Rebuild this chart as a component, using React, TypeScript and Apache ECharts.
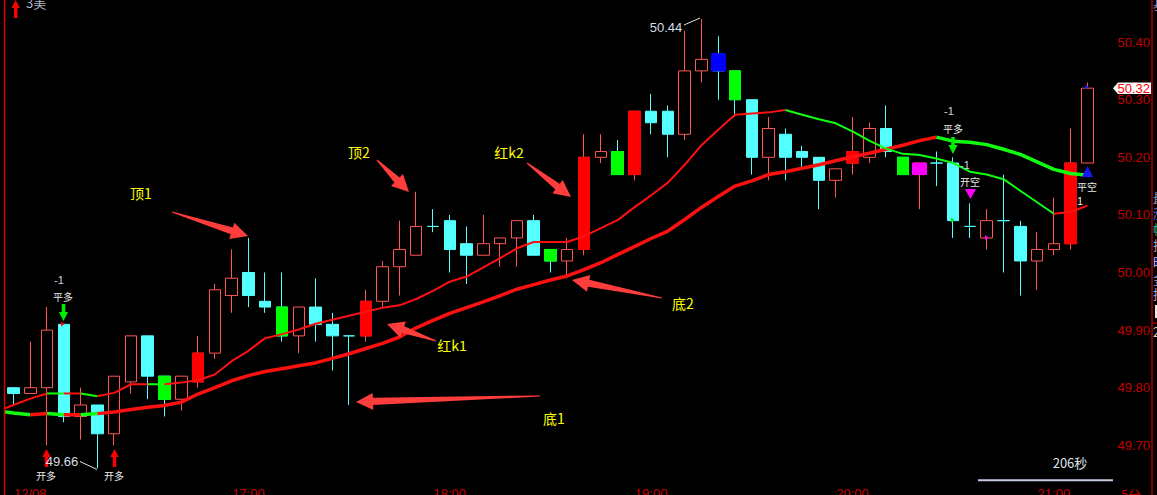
import React, { useEffect, useRef } from "react";
import * as echarts from "echarts";

// ---------- DATA ----------
const categories = [
  "15:45", "15:50", "15:55", "16:00", "16:05", "16:10", "16:15", "16:20", "16:25", "16:30", "16:35", "16:40",
  "16:45", "16:50", "16:55", "17:00", "17:05", "17:10", "17:15", "17:20", "17:25", "17:30", "17:35", "17:40",
  "17:45", "17:50", "17:55", "18:00", "18:05", "18:10", "18:15", "18:20", "18:25", "18:30", "18:35", "18:40",
  "18:45", "18:50", "18:55", "19:00", "19:05", "19:10", "19:15", "19:20", "19:25", "19:30", "19:35", "19:40",
  "19:45", "19:50", "19:55", "20:00", "20:05", "20:10", "20:15", "20:20", "20:25", "20:30", "20:35", "20:40",
  "20:45", "20:50", "20:55", "21:00", "21:05", "21:10",
];

// tick labels shown on the time axis: [category index, text]
const xTickLabels: [number, string][] = [
  [2, "12/08"], [15, "17:00"], [27, "18:00"], [39, "19:00"], [51, "20:00"], [63, "21:00"],
];

// candles for category index 1..65 : [open, close, low, high]
const ohlc: number[][] = [
  [49.80, 49.79, 49.77, 49.80], [49.79, 49.80, 49.79, 49.88], [49.80, 49.90, 49.70, 49.94], [49.91, 49.75, 49.74, 49.91],
  [49.75, 49.77, 49.71, 49.80], [49.77, 49.72, 49.66, 49.77], [49.72, 49.82, 49.70, 49.82], [49.81, 49.89, 49.79, 49.89],
  [49.89, 49.82, 49.78, 49.89], [49.82, 49.78, 49.75, 49.82], [49.78, 49.82, 49.76, 49.82], [49.81, 49.86, 49.80, 49.89],
  [49.86, 49.97, 49.85, 49.98], [49.96, 49.99, 49.93, 50.04], [50.00, 49.96, 49.94, 50.06], [49.95, 49.94, 49.93, 50.00],
  [49.94, 49.89, 49.88, 50.00], [49.89, 49.94, 49.86, 49.94], [49.94, 49.91, 49.88, 49.99], [49.91, 49.89, 49.83, 49.93],
  [49.89, 49.89, 49.77, 49.89], [49.89, 49.95, 49.88, 49.97], [49.95, 50.01, 49.94, 50.02], [50.01, 50.04, 49.96, 50.09],
  [50.03, 50.08, 50.03, 50.14], [50.08, 50.08, 50.07, 50.11], [50.09, 50.04, 50.00, 50.10], [50.05, 50.03, 49.98, 50.08],
  [50.03, 50.05, 50.03, 50.10], [50.05, 50.06, 50.01, 50.06], [50.06, 50.09, 50.01, 50.09], [50.09, 50.03, 50.03, 50.10],
  [50.04, 50.02, 50.00, 50.04], [50.02, 50.04, 49.99, 50.06], [50.04, 50.20, 50.03, 50.24], [50.20, 50.21, 50.19, 50.24],
  [50.21, 50.17, 50.17, 50.23], [50.17, 50.28, 50.16, 50.28], [50.28, 50.26, 50.24, 50.31], [50.28, 50.24, 50.20, 50.29],
  [50.24, 50.35, 50.23, 50.42], [50.35, 50.37, 50.33, 50.44], [50.38, 50.35, 50.30, 50.41], [50.35, 50.30, 50.27, 50.35],
  [50.30, 50.20, 50.17, 50.30], [50.20, 50.25, 50.16, 50.27], [50.24, 50.20, 50.16, 50.25], [50.21, 50.20, 50.18, 50.22],
  [50.20, 50.16, 50.11, 50.20], [50.16, 50.18, 50.13, 50.18], [50.19, 50.21, 50.17, 50.27], [50.20, 50.25, 50.19, 50.26],
  [50.25, 50.21, 50.20, 50.29], [50.20, 50.17, 50.17, 50.20], [50.17, 50.19, 50.11, 50.19], [50.19, 50.19, 50.15, 50.21],
  [50.19, 50.09, 50.06, 50.20], [50.08, 50.08, 50.06, 50.12], [50.06, 50.09, 50.04, 50.11], [50.09, 50.09, 50.00, 50.17],
  [50.08, 50.02, 49.96, 50.09], [50.02, 50.04, 49.97, 50.07], [50.04, 50.05, 50.03, 50.13], [50.05, 50.19, 50.04, 50.25],
  [50.19, 50.32, 50.19, 50.33],
];

// signal-coloured bars (category indices)
const redSignalBars = [12, 22, 35, 38, 51, 64];
const greenSignalBars = [10, 17, 33, 37, 44, 54];
const blueSignalBars = [43];
const magentaSignalBars = [55];

// moving averages for category index 0..65
const fastMA = [
  49.759, 49.770, 49.781, 49.790, 49.790, 49.790, 49.785, 49.791, 49.806, 49.806, 49.806, 49.809,
  49.813, 49.823, 49.846, 49.864, 49.886, 49.893, 49.901, 49.911, 49.918, 49.925, 49.932, 49.939,
  49.943, 49.954, 49.968, 49.984, 49.993, 50.009, 50.025, 50.042, 50.053, 50.053, 50.053, 50.063,
  50.077, 50.091, 50.113, 50.134, 50.156, 50.187, 50.221, 50.248, 50.274, 50.276, 50.278, 50.282,
  50.274, 50.266, 50.259, 50.245, 50.229, 50.215, 50.206, 50.204, 50.198, 50.190, 50.175, 50.170,
  50.162, 50.142, 50.122, 50.102, 50.105, 50.116,
];
const slowMA = [
  49.760, 49.756, 49.753, 49.755, 49.753, 49.753, 49.755, 49.758, 49.762, 49.766, 49.769, 49.775,
  49.789, 49.800, 49.812, 49.821, 49.828, 49.833, 49.838, 49.843, 49.851, 49.859, 49.868, 49.877,
  49.888, 49.904, 49.917, 49.929, 49.939, 49.949, 49.960, 49.971, 49.979, 49.987, 49.994, 50.005,
  50.017, 50.031, 50.045, 50.059, 50.072, 50.092, 50.113, 50.132, 50.150, 50.159, 50.170, 50.175,
  50.181, 50.187, 50.194, 50.201, 50.207, 50.214, 50.221, 50.229, 50.235, 50.228, 50.226, 50.222,
  50.214, 50.205, 50.192, 50.179, 50.172, 50.169,
];
// trend runs: [from index, to index, 1 = up(red) / 0 = down(green)]
const fastTrendRuns = [[0, 3, 1], [3, 4, 0], [4, 5, 1], [5, 6, 0], [6, 9, 1], [9, 10, 0], [10, 47, 1], [47, 63, 0], [63, 65, 1]];
const slowTrendRuns = [[0, 2, 0], [2, 3, 1], [3, 4, 0], [4, 5, 1], [5, 6, 0], [6, 56, 1], [56, 65, 0]];

const lastPrice = 50.32;
const lowMark = "49.66";
const highMark = "50.44";

// ---------- STYLE / LAYOUT ----------
const BAND = 16.78;
const FIRST_CENTER = 13.5;
const GRID_LEFT = FIRST_CENTER - 1.5 * BAND;
const GRID_WIDTH = categories.length * BAND;
const GRID_TOP = -15.5;
const GRID_HEIGHT = 518.4;
const AXIS_RED = "#c40000";
const CYAN = "#54ffff";
const HOLLOW = "#ff5555";
const LINE_RED = "#ff1010";
const LINE_GREEN = "#10ff10";
const NUM_FONT = "'Liberation Sans', Arial, sans-serif";
const CJK_FONT = "'Noto Sans CJK SC', 'Noto Sans', sans-serif";

function arrowPoly(tx: number, ty: number, px: number, py: number) {
  const dx = px - tx, dy = py - ty;
  const len = Math.hypot(dx, dy);
  const ux = dx / len, uy = dy / len;
  const nx = -uy, ny = ux;
  const L = 17, Wh = 8.5, Ws = 3.6, Wt = 0.6;
  const bx = px - ux * L, by = py - uy * L;
  return [
    [tx + nx * Wt, ty + ny * Wt],
    [bx + nx * Ws, by + ny * Ws],
    [bx + nx * Wh, by + ny * Wh],
    [px, py],
    [bx - nx * Wh, by - ny * Wh],
    [bx - nx * Ws, by - ny * Ws],
    [tx - nx * Wt, ty - ny * Wt],
  ];
}

function txt(text: string, x: number, y: number, fill: string, fontSize: number, font = NUM_FONT, align = "center", va = "middle") {
  return {
    type: "text", x, y, z: 100,
    style: { text, fill, fontSize, fontFamily: font, align, verticalAlign: va },
  };
}
function poly(points: number[][], fill: string) {
  return { type: "polygon", z: 100, shape: { points }, style: { fill } };
}
function seg(x1: number, y1: number, x2: number, y2: number, stroke: string, lineWidth = 1) {
  return { type: "line", z: 100, shape: { x1, y1, x2, y2 }, style: { stroke, lineWidth } };
}
function downArrow(cx: number, top: number, fill: string) {
  return poly([[cx - 1.8, top], [cx + 1.8, top], [cx + 1.8, top + 8], [cx + 4.6, top + 8], [cx, top + 17], [cx - 4.6, top + 8], [cx - 1.8, top + 8]], fill);
}
function upArrow(cx: number, tip: number, fill: string) {
  return poly([[cx, tip], [cx + 4.2, tip + 8], [cx + 1.7, tip + 8], [cx + 1.7, tip + 18], [cx - 1.7, tip + 18], [cx - 1.7, tip + 8], [cx - 4.2, tip + 8]], fill);
}
function pointer(x: number, y: number, fill: string) {
  return poly([[x, y - 2.5], [x + 3.5, y], [x, y + 2.5]], fill);
}

function buildGraphics(priceY: number) {
  const Y = "#ffff00";
  const W = "#e8e8e8";
  const B = "#c8d4ea";
  const AR = "#ff3d3d";
  const g: any[] = [
    { type: "rect", z: 99, shape: { x: 0, y: 0, width: 4, height: 495 }, style: { fill: "#000" } },
    seg(4.5, 0, 4.5, 495, "#e00000", 1.5),
    seg(1152, 0, 1152, 495, "#d00000", 1.2),
    seg(1152, 323, 1157, 323, "#d00000", 1),
    // top-left
    upArrow(15.7, 0, "#ff0000"),
    txt("3美", 26, 2, "#a8b4c8", 13, CJK_FONT, "left", "middle"),
    // yellow notes
    txt("顶1", 141, 193, Y, 14, CJK_FONT),
    txt("顶2", 359, 152, Y, 14, CJK_FONT),
    txt("红k2", 509, 152, Y, 14, CJK_FONT),
    txt("红k1", 452, 345, Y, 14, CJK_FONT),
    txt("底1", 554, 418, Y, 14, CJK_FONT),
    txt("底2", 683, 303, Y, 14, CJK_FONT),
    poly(arrowPoly(172, 212, 248, 236), AR),
    poly(arrowPoly(377, 160, 409, 192), AR),
    poly(arrowPoly(527, 163, 571, 197), AR),
    poly(arrowPoly(436, 341, 387, 324), AR),
    poly(arrowPoly(540, 396, 356, 402), AR),
    poly(arrowPoly(662, 298, 572, 280), AR),
    // trade signals
    txt("-1", 59, 280, B, 11),
    txt("平多", 63, 296, W, 10, CJK_FONT),
    downArrow(63.5, 304, "#00ee00"),
    pointer(61, 324, "#ff0000"),
    upArrow(46.5, 449, "#ff0000"),
    upArrow(114.5, 449, "#ff0000"),
    txt("开多", 46, 475, W, 10, CJK_FONT),
    txt("开多", 114, 475, W, 10, CJK_FONT),
    txt(lowMark, 62, 461, "#d8dde6", 13),
    seg(80, 461.5, 97, 469.5, "#e0e0e0", 1),
    txt(highMark, 666, 27, "#d8dde6", 13),
    seg(684, 25, 700, 18, "#e0e0e0", 1),
    txt("-1", 949, 111, B, 11),
    txt("平多", 953, 128, W, 10, CJK_FONT),
    downArrow(953, 137, "#00ee00"),
    pointer(951, 220, "#00ee00"),
    txt("-1", 965, 165, B, 11),
    txt("开空", 970, 181, W, 10, CJK_FONT),
    poly([[965, 189], [976, 189], [970.5, 199]], "#ff00ff"),
    pointer(985, 237.5, "#ff00ff"),
    poly([[1087.5, 166], [1093, 177], [1082, 177]], "#1414ff"),
    pointer(1085, 87, "#1414ff"),
    txt("平空", 1087, 186, W, 10, CJK_FONT),
    txt("1", 1080, 201, W, 11),
    // bottom right
    txt("206秒", 1070, 462, "#dde3ec", 13, CJK_FONT),
    seg(978, 480.3, 1113, 480.3, "#c4cce4", 2),
    txt("5分", 1131, 494, AXIS_RED, 13, CJK_FONT),
    // price tag
    poly([[1113, priceY], [1118, priceY - 5.8], [1151, priceY - 5.8], [1151, priceY + 5.8], [1118, priceY + 5.8]], "#ffffff"),
    txt(lastPrice.toFixed(2), 1150, priceY, "#ff0000", 13, NUM_FONT, "right", "middle"),
  ];
  const side: [string, number, string][] = [
    ["基", 3, "#8898c0"], ["最", 197, "#8898c0"], ["涨", 212, "#5a84e0"], ["幅", 228, "#30c0a0"],
    ["振", 244, "#a0a0d0"], ["昨", 261, "#c0c0ff"], ["金", 278, "#8090c0"], ["持", 293, "#a0a8e0"], ["2", 331, "#d0d0d0"],
  ];
  side.forEach(([t, y, c]) => g.push(txt(t, 1153, y, c, 13, CJK_FONT, "left", "middle")));
  g.push({ type: "rect", z: 100, shape: { x: 1155, y: 305, width: 3, height: 13 }, style: { fill: "#e8e8e8" } });
  return g;
}

function runSeries(values: number[], runs: number[][], width: number) {
  return runs.map(([a, b, up]) => ({
    type: "line",
    data: values.map((v, i) => (i >= a && i <= b ? v : "-")),
    symbol: "none",
    silent: true,
    z: 3,
    lineStyle: { color: up ? LINE_RED : LINE_GREEN, width },
    itemStyle: { color: up ? LINE_RED : LINE_GREEN },
  }));
}

export default function App() {
  const ref = useRef<HTMLDivElement>(null);
  useEffect(() => {
    if (!ref.current) return;
    const chart = echarts.init(ref.current, undefined, { renderer: "svg" });
    const labelMap = new Map<number, string>(xTickLabels);

    const solid = (c: string) => ({ color: c, color0: c, borderColor: c, borderColor0: c });
    const baseData = ohlc.map((d, i) => {
      const idx = i + 1;
      const item: any = { value: [idx, d[0], d[1], d[2], d[3]] };
      if (d[0] === d[1]) item.itemStyle = solid(CYAN);
      return item;
    });
    const overlay = (bars: number[], color: string) =>
      bars.map((idx) => {
        const d = ohlc[idx - 1];
        return { value: [idx, d[0], d[1], Math.min(d[0], d[1]), Math.max(d[0], d[1])], itemStyle: solid(color) };
      });

    const option: any = {
      animation: false,
      backgroundColor: "#000000",
      grid: {
        left: GRID_LEFT, top: GRID_TOP, width: GRID_WIDTH, height: GRID_HEIGHT,
        containLabel: false, outerBoundsMode: "none",
      },
      xAxis: {
        type: "category",
        data: categories,
        boundaryGap: true,
        offset: -21.9,
        axisLine: { show: false },
        axisTick: { show: false },
        splitLine: { show: false },
        axisLabel: {
          interval: (i: number) => labelMap.has(i),
          formatter: (_v: string, i: number) => labelMap.get(i) ?? "",
          color: AXIS_RED,
          fontSize: 13,
          fontFamily: NUM_FONT,
          margin: 6,
        },
      },
      yAxis: {
        type: "value",
        position: "right",
        min: 49.6,
        max: 50.5,
        interval: 0.1,
        axisLine: { show: false },
        axisTick: { show: false },
        splitLine: { show: false },
        axisLabel: {
          showMinLabel: false,
          showMaxLabel: false,
          formatter: (v: number) => v.toFixed(2),
          color: AXIS_RED,
          fontSize: 13,
          fontFamily: NUM_FONT,
          align: "right",
          margin: 1150 - (GRID_LEFT + GRID_WIDTH),
        },
      },
      series: [
        {
          type: "candlestick",
          data: baseData,
          encode: { x: 0, y: [1, 2, 3, 4] },
          barWidth: 12,
          z: 2,
          silent: true,
          itemStyle: { color: "transparent", color0: CYAN, borderColor: HOLLOW, borderColor0: CYAN, borderWidth: 1 },
        },
        {
          type: "candlestick",
          data: [...overlay(redSignalBars, "#ff0000"), ...overlay(greenSignalBars, "#00ff00")],
          encode: { x: 0, y: [1, 2, 3, 4] },
          barWidth: 12,
          z: 2,
          silent: true,
          itemStyle: { borderWidth: 1 },
        },
        {
          type: "candlestick",
          data: [...overlay(blueSignalBars, "#0000ff"), ...overlay(magentaSignalBars, "#ff00ff")],
          encode: { x: 0, y: [1, 2, 3, 4] },
          barWidth: 15,
          z: 2,
          silent: true,
          itemStyle: { borderWidth: 1 },
        },
        ...runSeries(slowMA, slowTrendRuns, 3.5),
        ...runSeries(fastMA, fastTrendRuns, 2),
      ],
    };
    chart.setOption(option);
    const py = chart.convertToPixel({ yAxisIndex: 0 }, lastPrice) as number;
    chart.setOption({ graphic: buildGraphics(py) });
    return () => chart.dispose();
  }, []);
  return (
    <div
      ref={ref}
      style={{ position: "fixed", left: 0, top: 0, width: 1157, height: 495, background: "#000" }}
    />
  );
}
